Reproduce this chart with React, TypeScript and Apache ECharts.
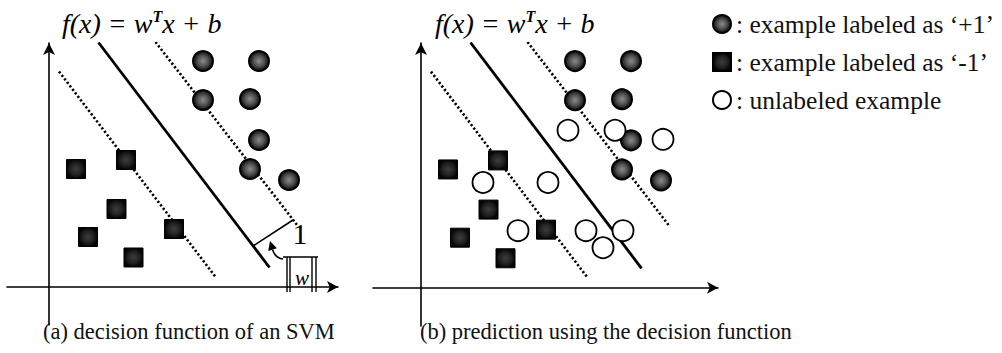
import React, { useEffect, useRef } from "react";
import * as echarts from "echarts";

// ---- data (units: axis units, origin at the axes' crossing) ----
const POS = "example labeled as \u2018+1\u2019";
const NEG = "example labeled as \u2018-1\u2019";
const UNL = "unlabeled example";

const labeledPos: number[][] = [
  [15.4, 22.6], [21.0, 22.6], [15.4, 18.7], [20.1, 18.8],
  [21.0, 14.7], [20.1, 11.8], [24.0, 10.7],
];
const labeledNeg: number[][] = [
  [2.7, 11.8], [7.7, 12.7], [6.75, 7.8], [3.9, 5.0], [12.5, 5.8], [8.45, 2.95],
];
const unlabeled: number[][] = [
  [14.7, 15.7], [19.4, 15.7], [24.2, 14.8], [6.2, 10.5], [12.7, 10.5],
  [9.7, 5.7], [16.5, 5.7], [20.2, 5.7], [18.2, 4.0],
];

const decisionLine: number[][] = [[4.95, 24.45], [22.05, 1.95]];
const marginLower: number[][] = [[1.0, 21.55], [16.7, 0.95]];
const marginUpper: number[][] = [[10.65, 24.5], [24.85, 6.15]];

// annotation of panel (a)
const marginSegment: number[][] = [[20.4, 4.1], [24.4, 6.7]];
const marginLabelPos: number[] = [25.1, 5.4];
const arrowCurve: number[][] = [[23.4, 2.8], [22.6, 2.9], [22.1, 4.6]];
const normBoxTop: number[][] = [[23.4, 3.0], [26.9, 3.0]];
const normBarsX: number[] = [23.8, 24.1, 26.3, 26.7];
const normBarsY: number[] = [3.0, -0.5];
const normLabelPos: number[] = [25.3, 0.9];

const yRange = [-3.8, 24.4];
const xRangeA = [-4.2, 28.9];
const xRangeB = [-4.8, 29.7];

const SERIF = "Liberation Serif";

const posStyle = {
  opacity: 1,
  color: {
    type: "radial", x: 0.5, y: 0.5, r: 0.5,
    colorStops: [
      { offset: 0, color: "#8a8a8a" },
      { offset: 0.5, color: "#555" },
      { offset: 1, color: "#0a0a0a" },
    ],
  },
  borderColor: "#000",
  borderWidth: 2,
};
const negStyle = {
  opacity: 1,
  color: {
    type: "radial", x: 0.5, y: 0.5, r: 0.5,
    colorStops: [
      { offset: 0, color: "#3c3c3c" },
      { offset: 0.6, color: "#222" },
      { offset: 1, color: "#050505" },
    ],
  },
  borderColor: "#000",
  borderWidth: 1,
};
const unlStyle = { opacity: 1, color: "#fff", borderColor: "#000", borderWidth: 1.8 };

function axes(gridIndex: number, xr: number[]) {
  const common = {
    type: "value" as const,
    gridIndex,
    axisTick: { show: false },
    axisLabel: { show: false },
    splitLine: { show: false },
  };
  return {
    x: {
      ...common,
      min: xr[0],
      max: xr[1],
      axisLine: {
        onZero: true,
        symbol: ["none", "arrow"],
        symbolSize: [9, 11],
        lineStyle: { color: "#000", width: 1.6 },
      },
    },
    y: {
      ...common,
      min: yRange[0],
      max: yRange[1],
      axisLine: {
        onZero: true,
        symbol: ["none", "arrow"],
        symbolSize: [9, 12],
        lineStyle: { color: "#000", width: 1.6 },
      },
    },
  };
}

function lineSeries(idx: number, data: number[][], dotted: boolean) {
  return {
    type: "line",
    xAxisIndex: idx,
    yAxisIndex: idx,
    data,
    symbol: "none",
    silent: true,
    z: 2,
    lineStyle: dotted
      ? { color: "#000", width: 2.6, type: [2.2, 2.2] }
      : { color: "#000", width: 2.8, type: "solid" },
  };
}

function pointSeries(idx: number, name: string, data: number[][], symbol: string, size: number, itemStyle: any) {
  return {
    type: "scatter",
    name,
    xAxisIndex: idx,
    yAxisIndex: idx,
    data,
    symbol,
    symbolSize: size,
    itemStyle,
    z: 3,
    silent: true,
  };
}

function renderAnnotation(_params: any, api: any) {
  const c = (p: number[]) => api.coord(p);
  const stroke = { stroke: "#000", lineWidth: 1.6 };
  const m0 = c(marginSegment[0]);
  const m1 = c(marginSegment[1]);
  const a0 = c(arrowCurve[0]);
  const a1 = c(arrowCurve[1]);
  const a2 = c(arrowCurve[2]);
  const dx = a2[0] - a1[0];
  const dy = a2[1] - a1[1];
  const len = Math.hypot(dx, dy) || 1;
  const ux = dx / len, uy = dy / len;
  const hl = 9, hw = 4.5;
  const bx = a2[0] - ux * hl, by = a2[1] - uy * hl;
  const head = [
    [a2[0], a2[1]],
    [bx - uy * hw, by + ux * hw],
    [bx + uy * hw, by - ux * hw],
  ];
  const t0 = c(normBoxTop[0]);
  const t1 = c(normBoxTop[1]);
  const bars = normBarsX.map((x) => {
    const p0 = c([x, normBarsY[0]]);
    const p1 = c([x, normBarsY[1]]);
    return { type: "line", shape: { x1: p0[0], y1: p0[1], x2: p1[0], y2: p1[1] }, style: { stroke: "#000", lineWidth: 1.4 } };
  });
  const lp = c(marginLabelPos);
  const wp = c(normLabelPos);
  return {
    type: "group",
    children: [
      { type: "line", shape: { x1: m0[0], y1: m0[1], x2: m1[0], y2: m1[1] }, style: stroke },
      {
        type: "bezierCurve",
        shape: { x1: a0[0], y1: a0[1], cpx1: a1[0], cpy1: a1[1], x2: bx, y2: by },
        style: { ...stroke, fill: null },
      },
      { type: "polygon", shape: { points: head }, style: { fill: "#000" } },
      { type: "line", shape: { x1: t0[0], y1: t0[1], x2: t1[0], y2: t1[1] }, style: { stroke: "#000", lineWidth: 1.4 } },
      ...bars,
      {
        type: "text",
        x: lp[0],
        y: lp[1],
        style: { text: "1", fill: "#000", fontSize: 30, fontFamily: SERIF, align: "center", verticalAlign: "middle" },
      },
      {
        type: "text",
        x: wp[0],
        y: wp[1],
        style: { text: "w", fill: "#000", fontSize: 21, fontStyle: "italic", fontFamily: SERIF, align: "center", verticalAlign: "middle" },
      },
    ],
  };
}

const titleRich = {
  m: { fontSize: 28, fontStyle: "italic", fontWeight: "normal", fontFamily: SERIF, color: "#000", lineHeight: 30 },
  s: { fontSize: 16, fontStyle: "italic", fontWeight: "bold", fontFamily: SERIF, color: "#000", lineHeight: 16, verticalAlign: "top" },
};
const formulaText = "{m|f(x) = w}{s|T}{m|x + b}";

export default function App() {
  const ref = useRef<HTMLDivElement>(null);
  useEffect(() => {
    const chart = echarts.init(ref.current!, null, { renderer: "svg" });
    const A = axes(0, xRangeA);
    const B = axes(1, xRangeB);
    const option: any = {
      animation: false,
      backgroundColor: "#fff",
      title: [
        { text: formulaText, left: 62, top: 8, padding: 0, textStyle: { fontWeight: "normal", rich: titleRich } },
        { text: formulaText, left: 435, top: 8, padding: 0, textStyle: { fontWeight: "normal", rich: titleRich } },
        {
          text: "(a) decision function of an SVM", left: 43, top: 320, padding: 0,
          textStyle: { fontSize: 22.5, fontWeight: "normal", fontFamily: SERIF, color: "#111" },
        },
        {
          text: "(b) prediction using the decision function", left: 420, top: 320, padding: 0,
          textStyle: { fontSize: 22.5, fontWeight: "normal", fontFamily: SERIF, color: "#111" },
        },
      ],
      legend: {
        orient: "vertical",
        left: 712,
        top: 11,
        padding: 0,
        itemWidth: 18,
        itemHeight: 18,
        itemGap: 12,
        selectedMode: false,
        data: [POS, NEG, UNL],
        formatter: (n: string) => ": " + n,
        textStyle: { fontSize: 25.5, lineHeight: 26, fontFamily: SERIF, color: "#111" },
      },
      grid: [
        { left: 7, top: 43, width: 331, height: 282 },
        { left: 373, top: 43, width: 345, height: 283 },
      ],
      xAxis: [A.x, B.x],
      yAxis: [A.y, B.y],
      series: [
        lineSeries(0, decisionLine, false),
        lineSeries(0, marginLower, true),
        lineSeries(0, marginUpper, true),
        pointSeries(0, POS, labeledPos, "circle", 20, posStyle),
        pointSeries(0, NEG, labeledNeg, "rect", 19, negStyle),
        {
          type: "custom",
          xAxisIndex: 0,
          yAxisIndex: 0,
          data: [[0, 0]],
          renderItem: renderAnnotation,
          silent: true,
          z: 4,
        },
        lineSeries(1, decisionLine, false),
        lineSeries(1, marginLower, true),
        lineSeries(1, marginUpper, true),
        pointSeries(1, POS, labeledPos, "circle", 20, posStyle),
        pointSeries(1, NEG, labeledNeg, "rect", 19, negStyle),
        pointSeries(1, UNL, unlabeled, "circle", 21, unlStyle),
      ],
    };
    chart.setOption(option);
    return () => chart.dispose();
  }, []);
  return (
    <div
      ref={ref}
      style={{ position: "absolute", left: 0, top: 0, width: 1002, height: 353 }}
    />
  );
}
